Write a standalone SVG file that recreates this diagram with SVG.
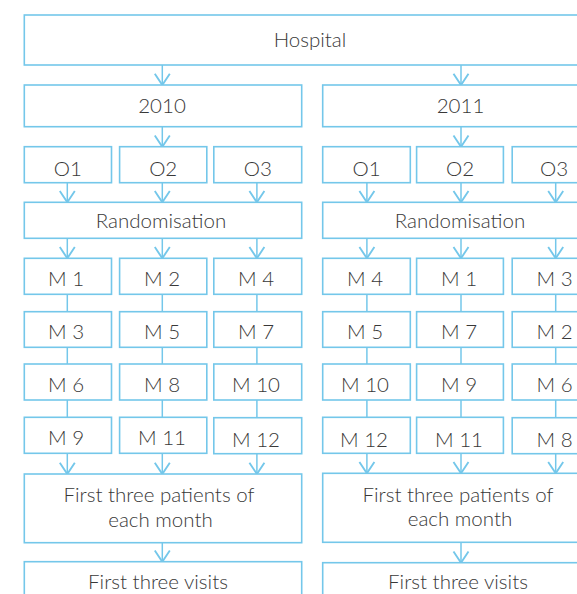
<svg xmlns="http://www.w3.org/2000/svg" width="577" height="594" viewBox="0 0 577 594">
<style>
  .box { fill: #ffffff; stroke: #74c7ea; stroke-width: 1.6; }
  .lbl { font-family: Lato, "Open Sans", sans-serif; font-weight: 300; font-size: 20.5px; fill: #383838; text-anchor: middle; }
  .con { stroke: #74c7ea; stroke-width: 1.5; fill: none; }
  .arr { marker-end: url(#chev); }
</style>
<defs>
  <marker id="chev" markerUnits="userSpaceOnUse" markerWidth="20" markerHeight="20" viewBox="-12 -8 14 16" refX="0" refY="0" orient="auto">
    <path d="M-9,-6 L0,0 L-9,6" fill="none" stroke="#74c7ea" stroke-width="1.5"/>
  </marker>
</defs>
<rect width="577" height="594" fill="#ffffff"/>

<g id="connectors">
  <line class="con arr" x1="162.3" y1="65" x2="162.3" y2="85"/>
  <line class="con arr" x1="461" y1="65" x2="461" y2="85"/>
  <line class="con arr" x1="162.3" y1="126.7" x2="162.3" y2="146.7"/>
  <line class="con arr" x1="461" y1="126.7" x2="461" y2="146.7"/>
  <line class="con arr" x1="67.3" y1="182.7" x2="67.3" y2="202.3"/>
  <line class="con arr" x1="162.3" y1="182.7" x2="162.3" y2="202.3"/>
  <line class="con arr" x1="256.9" y1="182.7" x2="256.9" y2="202.3"/>
  <line class="con arr" x1="366.9" y1="182.7" x2="366.9" y2="202.3"/>
  <line class="con arr" x1="461" y1="182.7" x2="461" y2="202.3"/>
  <line class="con arr" x1="555.7" y1="182.7" x2="555.7" y2="202.3"/>
  <line class="con arr" x1="67.3" y1="238.3" x2="67.3" y2="258.3"/>
  <line class="con arr" x1="162.3" y1="238.3" x2="162.3" y2="258.3"/>
  <line class="con arr" x1="256.9" y1="238.3" x2="256.9" y2="258.3"/>
  <line class="con arr" x1="366.9" y1="238.3" x2="366.9" y2="258.3"/>
  <line class="con arr" x1="461" y1="238.3" x2="461" y2="258.3"/>
  <line class="con arr" x1="555.7" y1="238.3" x2="555.7" y2="258.3"/>
  <line class="con" x1="67.3" y1="294.3" x2="67.3" y2="311.7"/>
  <line class="con" x1="162.3" y1="294.3" x2="162.3" y2="311.7"/>
  <line class="con" x1="256.9" y1="294.3" x2="256.9" y2="311.7"/>
  <line class="con" x1="366.9" y1="294.3" x2="366.9" y2="311.7"/>
  <line class="con" x1="461" y1="294.3" x2="461" y2="311.7"/>
  <line class="con" x1="555.7" y1="294.3" x2="555.7" y2="311.7"/>
  <line class="con" x1="67.3" y1="347.3" x2="67.3" y2="364"/>
  <line class="con" x1="162.3" y1="347.3" x2="162.3" y2="364"/>
  <line class="con" x1="256.9" y1="347.3" x2="256.9" y2="364"/>
  <line class="con" x1="366.9" y1="347.3" x2="366.9" y2="364"/>
  <line class="con" x1="461" y1="347.3" x2="461" y2="364"/>
  <line class="con" x1="555.7" y1="347.3" x2="555.7" y2="364"/>
  <line class="con" x1="67.3" y1="400" x2="67.3" y2="417.3"/>
  <line class="con" x1="162.3" y1="400" x2="162.3" y2="417.3"/>
  <line class="con" x1="256.9" y1="400" x2="256.9" y2="417.7"/>
  <line class="con" x1="366.9" y1="400" x2="366.9" y2="417.3"/>
  <line class="con" x1="461" y1="400" x2="461" y2="417.3"/>
  <line class="con" x1="555.7" y1="400" x2="555.7" y2="417.7"/>
  <line class="con arr" x1="67.3" y1="453.3" x2="67.3" y2="474"/>
  <line class="con arr" x1="162.3" y1="453.3" x2="162.3" y2="474"/>
  <line class="con arr" x1="256.9" y1="453.7" x2="256.9" y2="474"/>
  <line class="con arr" x1="366.9" y1="453.3" x2="366.9" y2="473.3"/>
  <line class="con arr" x1="461" y1="453.3" x2="461" y2="473.3"/>
  <line class="con arr" x1="555.7" y1="453.7" x2="555.7" y2="473.3"/>
  <line class="con arr" x1="162.3" y1="542.7" x2="162.3" y2="561.7"/>
  <line class="con arr" x1="461" y1="542.3" x2="461" y2="562.7"/>
</g>

<g id="hospital"><rect class="box" x="24.3" y="15" width="576" height="50"/><text class="lbl" x="310" y="47">Hospital</text></g>

<g id="y2010"><rect class="box" x="24.3" y="85" width="277.4" height="41.7"/><text class="lbl" x="162" y="113">2010</text></g>
<g id="y2011"><rect class="box" x="322.7" y="85" width="277.4" height="41.7"/><text class="lbl" x="460.5" y="113">2011</text></g>

<g id="a-o1"><rect class="box" x="24.3" y="146.7" width="87.2" height="36"/><text class="lbl" x="67.9" y="175.5">O1</text></g>
<g id="a-o2"><rect class="box" x="119.6" y="146.7" width="87.2" height="36"/><text class="lbl" x="163.2" y="175.5">O2</text></g>
<g id="a-o3"><rect class="box" x="213.8" y="146.7" width="87.9" height="36"/><text class="lbl" x="257.8" y="175.5">O3</text></g>
<g id="b-o1"><rect class="box" x="322.7" y="146.7" width="87.6" height="36"/><text class="lbl" x="366.5" y="175.5">O1</text></g>
<g id="b-o2"><rect class="box" x="416.6" y="146.7" width="86.8" height="36"/><text class="lbl" x="460" y="175.5">O2</text></g>
<g id="b-o3"><rect class="box" x="512.2" y="146.7" width="90" height="36"/><text class="lbl" x="554" y="175.5">O3</text></g>

<g id="a-rand"><rect class="box" x="24.3" y="202.3" width="277.4" height="36"/><text class="lbl" x="161" y="227.5">Randomisation</text></g>
<g id="b-rand"><rect class="box" x="322.7" y="202.3" width="277.4" height="36"/><text class="lbl" x="460" y="227.5">Randomisation</text></g>

<g id="a-r1c1"><rect class="box" x="24.3" y="258.3" width="87.2" height="36"/><text class="lbl" x="66" y="286">M 1</text></g>
<g id="a-r1c2"><rect class="box" x="119.6" y="258.3" width="87.2" height="36"/><text class="lbl" x="162" y="286">M 2</text></g>
<g id="a-r1c3"><rect class="box" x="213.8" y="258.3" width="87.9" height="36"/><text class="lbl" x="256" y="286">M 4</text></g>
<g id="b-r1c1"><rect class="box" x="322.7" y="258.3" width="87.6" height="36"/><text class="lbl" x="365" y="286">M 4</text></g>
<g id="b-r1c2"><rect class="box" x="416.6" y="258.3" width="86.8" height="36"/><text class="lbl" x="459" y="286">M 1</text></g>
<g id="b-r1c3"><rect class="box" x="512.2" y="258.3" width="90" height="36"/><text class="lbl" x="554.5" y="286">M 3</text></g>

<g id="a-r2c1"><rect class="box" x="24.3" y="311.7" width="87.2" height="35.6"/><text class="lbl" x="66" y="339.3">M 3</text></g>
<g id="a-r2c2"><rect class="box" x="119.6" y="311.7" width="87.2" height="35.6"/><text class="lbl" x="162" y="339.3">M 5</text></g>
<g id="a-r2c3"><rect class="box" x="213.8" y="311.7" width="87.9" height="35.6"/><text class="lbl" x="256" y="339.3">M 7</text></g>
<g id="b-r2c1"><rect class="box" x="322.7" y="311.7" width="87.6" height="35.6"/><text class="lbl" x="365" y="339.3">M 5</text></g>
<g id="b-r2c2"><rect class="box" x="416.6" y="311.7" width="86.8" height="35.6"/><text class="lbl" x="459" y="339.3">M 7</text></g>
<g id="b-r2c3"><rect class="box" x="512.2" y="311.7" width="90" height="35.6"/><text class="lbl" x="554.5" y="339.3">M 2</text></g>

<g id="a-r3c1"><rect class="box" x="24.3" y="364" width="87.2" height="36"/><text class="lbl" x="66" y="392">M 6</text></g>
<g id="a-r3c2"><rect class="box" x="119.6" y="364" width="87.2" height="36"/><text class="lbl" x="162" y="392">M 8</text></g>
<g id="a-r3c3"><rect class="box" x="213.8" y="364" width="87.9" height="36"/><text class="lbl" x="256" y="392">M 10</text></g>
<g id="b-r3c1"><rect class="box" x="322.7" y="364" width="87.6" height="36"/><text class="lbl" x="365" y="392">M 10</text></g>
<g id="b-r3c2"><rect class="box" x="416.6" y="364" width="86.8" height="36"/><text class="lbl" x="459" y="392">M 9</text></g>
<g id="b-r3c3"><rect class="box" x="512.2" y="364" width="90" height="36"/><text class="lbl" x="554.5" y="392">M 6</text></g>

<g id="a-r4c1"><rect class="box" x="24.3" y="417.3" width="87.2" height="36"/><text class="lbl" x="66" y="445">M 9</text></g>
<g id="a-r4c2"><rect class="box" x="119.6" y="417.3" width="87.2" height="36"/><text class="lbl" x="162" y="445">M 11</text></g>
<g id="a-r4c3"><rect class="box" x="213.8" y="417.7" width="87.9" height="36"/><text class="lbl" x="256" y="446.7">M 12</text></g>
<g id="b-r4c1"><rect class="box" x="322.7" y="417.3" width="87.6" height="36"/><text class="lbl" x="364" y="446.7">M 12</text></g>
<g id="b-r4c2"><rect class="box" x="416.6" y="417.3" width="86.8" height="36"/><text class="lbl" x="459" y="446.7">M 11</text></g>
<g id="b-r4c3"><rect class="box" x="512.2" y="417.7" width="90" height="36"/><text class="lbl" x="554.5" y="446.7">M 8</text></g>

<g id="a-patients"><rect class="box" x="24.3" y="474" width="277.4" height="68.7"/><text class="lbl" x="159" y="502.3">First three patients of</text><text class="lbl" x="160.5" y="526.7">each month</text></g>
<g id="b-patients"><rect class="box" x="322.7" y="473.3" width="277.4" height="69"/><text class="lbl" x="458" y="501.5">First three patients of</text><text class="lbl" x="460" y="526">each month</text></g>

<g id="a-visits"><rect class="box" x="24.3" y="561.7" width="277.4" height="50"/><text class="lbl" x="158" y="588.5">First three visits</text></g>
<g id="b-visits"><rect class="box" x="322.7" y="562.7" width="277.4" height="50"/><text class="lbl" x="458" y="588.5">First three visits</text></g>
</svg>
